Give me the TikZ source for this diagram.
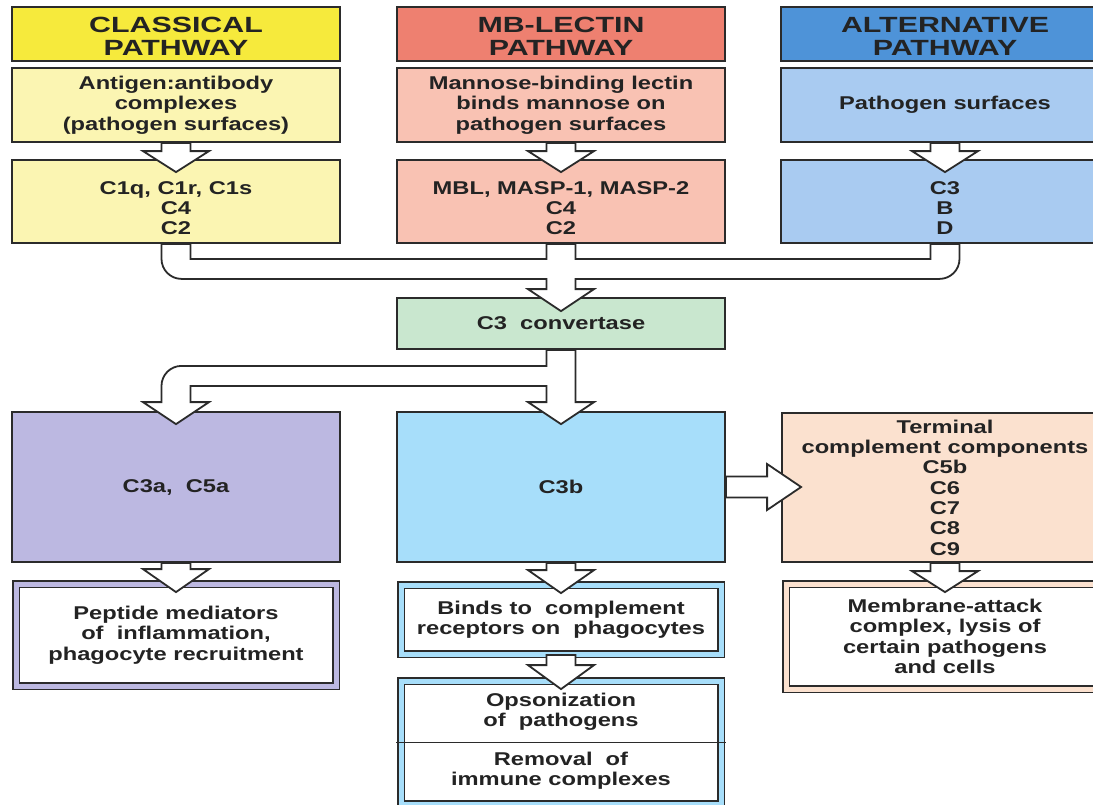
\documentclass[tikz,border=0pt]{standalone}
\usepackage{fontspec}
\setmainfont{Liberation Sans}[FakeStretch=1.28]
\newfontfamily\hfont{Liberation Sans}[FakeStretch=1.38]
\usetikzlibrary{calc}
\definecolor{linec}{HTML}{2B2B2B}
\definecolor{textc}{HTML}{232323}
\definecolor{hY}{HTML}{F6EA3C}
\definecolor{bY}{HTML}{FBF5B2}
\definecolor{hR}{HTML}{EE8070}
\definecolor{bR}{HTML}{F9C2B3}
\definecolor{hB}{HTML}{4E93D8}
\definecolor{bB}{HTML}{A9CBF1}
\definecolor{cG}{HTML}{C9E7CF}
\definecolor{cL}{HTML}{BCB8E1}
\definecolor{cC}{HTML}{A7DEFA}
\definecolor{cP}{HTML}{FBE1CF}
\newcommand\varrow[4]{%
  \path[arr] let \p1=(#1.south), \p2=(#2.north) in
   (\x1-14.5pt,\y1) -- (\x1-14.5pt,\y2+#3) -- (\x1-33pt,\y2+#3) -- (\x1,\y2-#4)
   -- (\x1+33pt,\y2+#3) -- (\x1+14.5pt,\y2+#3) -- (\x1+14.5pt,\y1) -- cycle;}
\begin{document}
\begin{tikzpicture}[x=1pt,y=-1pt,
  txt/.style={font=\bfseries\fontsize{18.5}{20.3}\selectfont, text=textc, align=center, inner sep=0pt},
  htxt/.style={font=\hfont\bfseries\fontsize{22}{23}\selectfont, text=textc, align=center, inner sep=0pt},
  box/.style={draw=linec, line width=1.8pt, inner sep=0pt, minimum width=328pt, txt},
  hbox/.style={box, minimum height=54pt},
  dbox/.style={draw=linec, line width=1.8pt, double=#1, double distance=5pt, fill=white, inner sep=0pt, minimum width=320pt, txt},
  arr/.style={fill=white, draw=linec, line width=1.8pt, line join=miter}]
\useasboundingbox (0,0) rectangle (1093,804);
\fill[white] (0,0) rectangle (1093,804);
\begin{scope}
\clip (0,0) rectangle (1093,804);
% headers
\node[hbox, fill=hY] (h1) at (176,34) {};
\node[hbox, fill=hR] (h2) at (561,34) {};
\node[hbox, fill=hB] (h3) at (945,34) {};
\node[htxt] (ht1) at (176,36) {CLASSICAL\\PATHWAY};
\node[htxt] (ht2) at (561,36) {MB-LECTIN\\PATHWAY};
\node[htxt] (ht3) at (945,36) {ALTERNATIVE\\PATHWAY};
% triggers
\node[box, fill=bY, minimum height=74pt] (a1) at (176,105) {Antigen:antibody\\complexes\\(pathogen surfaces)};
\node[box, fill=bR, minimum height=74pt] (a2) at (561,105) {Mannose-binding lectin\\binds mannose on\\pathogen surfaces};
\node[box, fill=bB, minimum height=74pt] (a3) at (945,105) {Pathogen surfaces};
% components
\node[box, fill=bY, minimum height=83pt] (b1) at (176,201.5) {};
\node[box, fill=bR, minimum height=83pt] (b2) at (561,201.5) {};
\node[box, fill=bB, minimum height=83pt] (b3) at (945,201.5) {};
\node[txt] (t1) at (176,208) {C1q, C1r, C1s\\C4\\C2};
\node[txt] (t2) at (561,208) {MBL, MASP-1, MASP-2\\C4\\C2};
\node[txt] (t3) at (945,208) {C3\\B\\D};
% convertase
\node[box, fill=cG, minimum height=51pt] (conv) at (561,323.5) {C3\ \ convertase};
% products
\node[box, fill=cL, minimum height=150pt] (c3a) at (176,487) {C3a,\ \ C5a};
\node[box, fill=cC, minimum height=150pt] (c3b) at (561,487) {C3b};
\node[box, fill=cP, minimum height=149pt, minimum width=326pt] (term) at (945,487.5)
  {Terminal\\complement components\\C5b\\C6\\C7\\C8\\C9};
% effects
\node[dbox=cL, minimum height=102pt] (pep) at (176,635) {Peptide mediators\\of\ \ inflammation,\\phagocyte recruitment};
\node[dbox=cC, minimum height=69pt] (bind) at (561,619.5) {Binds to\ \ complement\\receptors on\ \ phagocytes};
\node[dbox=cC, minimum height=123pt] (ops) at (561,742.5) {};
\draw[linec, line width=1.8pt] ($(ops.west)+(-4,0)$) -- ($(ops.east)+(4,0)$);
\node[txt] (o1) at (561,712) {Opsonization\\of\ \ pathogens};
\node[txt] (o2) at (561,771) {Removal\ \ of\\immune complexes};
\node[dbox=cP, minimum height=105pt, minimum width=318pt] (mac) at (945,636.5)
  {Membrane-attack\\complex, lysis of\\certain pathogens\\and cells};
% simple arrows
\varrow{a1}{b1}{8pt}{13pt}
\varrow{a2}{b2}{8pt}{13pt}
\varrow{a3}{b3}{8pt}{13pt}
\varrow{c3a}{pep}{14pt}{9pt}
\varrow{c3b}{bind}{14pt}{9pt}
\varrow{bind}{ops}{15pt}{9pt}
\varrow{term}{mac}{12pt}{9pt}
% merge into convertase
\path[arr] let \p1=(b1.south), \p2=(b2.south), \p3=(b3.south), \p4=(conv.north) in
 (\x1-14.5pt,\y1) -- (\x1-14.5pt,\y1-15pt) arc[start angle=180,end angle=270,radius=20pt]
 -- (\x2-14.5pt,\y1-35pt) -- (\x2-14.5pt,\y4+8pt) -- (\x2-33pt,\y4+8pt) -- (\x2,\y4-14pt)
 -- (\x2+33pt,\y4+8pt) -- (\x2+14.5pt,\y4+8pt) -- (\x2+14.5pt,\y1-35pt)
 -- (\x3-5.5pt,\y1-35pt) arc[start angle=270,end angle=360,radius=20pt]
 -- (\x3+14.5pt,\y1) -- (\x3-14.5pt,\y1) -- (\x3-14.5pt,\y1-15pt) -- (\x2+14.5pt,\y1-15pt)
 -- (\x2+14.5pt,\y1) -- (\x2-14.5pt,\y1) -- (\x2-14.5pt,\y1-15pt) -- (\x1+14.5pt,\y1-15pt)
 -- (\x1+14.5pt,\y1) -- cycle;
% split from convertase
\path[arr] let \p1=(conv.south), \p2=(c3a.north), \p3=(c3b.north) in
 (\x1+14.5pt,\y1) -- (\x1+14.5pt,\y3+9pt) -- (\x1+33pt,\y3+9pt) -- (\x1,\y3-13pt)
 -- (\x1-33pt,\y3+9pt) -- (\x1-14.5pt,\y3+9pt) -- (\x1-14.5pt,\y1-36pt)
 -- (\x2+14.5pt,\y1-36pt) -- (\x2+14.5pt,\y2+9pt) -- (\x2+33pt,\y2+9pt) -- (\x2,\y2-13pt)
 -- (\x2-33pt,\y2+9pt) -- (\x2-14.5pt,\y2+9pt) -- (\x2-14.5pt,\y1-36pt)
 arc[start angle=180,end angle=90,radius=20pt] -- (\x1-14.5pt,\y1-16pt) -- (\x1-14.5pt,\y1) -- cycle;
% C3b to terminal
\path[arr] let \p1=(c3b.east), \p2=(term.west) in
 (\x1,\y1+10.5pt) -- (\x2-14pt,\y1+10.5pt) -- (\x2-14pt,\y1+23pt) -- (\x2+20pt,\y1)
 -- (\x2-14pt,\y1-23pt) -- (\x2-14pt,\y1-10.5pt) -- (\x1,\y1-10.5pt) -- cycle;
\end{scope}
\end{tikzpicture}
\end{document}
